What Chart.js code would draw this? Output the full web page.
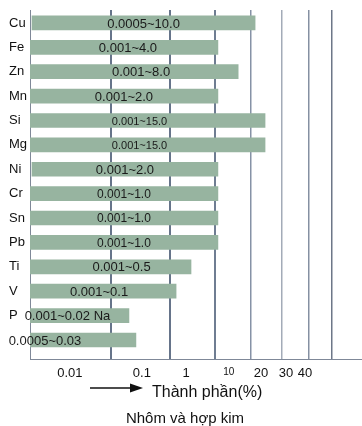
<!DOCTYPE html>
<html>
<head>
<meta charset="utf-8">
<script src="https://cdn.jsdelivr.net/npm/chart.js@4/dist/chart.umd.min.js"></script>
<style>
  body { margin: 0; background: #fff; }
  canvas { display: block; }
</style>
</head>
<body>
<canvas id="alloyChart" width="362" height="426"></canvas>
<script>
// element rows, top to bottom
const elements = ["Cu", "Fe", "Zn", "Mn", "Si", "Mg", "Ni", "Cr", "Sn", "Pb", "Ti", "V", "P", ""];
const rangeLabels = [
    "0.0005~10.0", "0.001~4.0", "0.001~8.0", "0.001~2.0", "0.001~15.0", "0.001~15.0",
    "0.001~2.0", "0.001~1.0", "0.001~1.0", "0.001~1.0", "0.001~0.5", "0.001~0.1",
    "0.001~0.02 Na", "0.0005~0.03"
];
// bar extents in axis units (0..100 across the plot)
const barStarts = [0.6, 0, 0, 0, 0, 0, 0.6, 0, 0, 0, 0, 0, 0, 0];
const barEnds = [67.8, 56.6, 62.7, 56.6, 70.8, 70.8, 56.6, 56.6, 56.6, 56.6, 48.5, 44.0, 29.8, 31.9];
// vertical grid lines and the (offset) tick labels under them
const gridValues = [24.4, 42.2, 55.7, 66.6, 75.9, 84.0, 91.0];
const tickLabels = ["0.01", "0.1", "1", "10", "20", "30", "40"];
const tickValues = [12.0, 33.7, 47.0, 59.9, 69.6, 77.1, 82.8];

const FONT = "'Liberation Sans', Arial, sans-serif";
const gridColors = ["#66748a", "#66748a", "#6f7d92", "#8692a6", "#a3abb8", "#8590a2", "#6d7788"];
const gridWidths = [2, 2, 2, 1.5, 1.5, 1.5, 1.5];

const xTicks = gridValues.map((v, i) => ({ value: v, kind: "grid", idx: i }))
    .concat(tickValues.map((v, i) => ({ value: v, kind: "label", idx: i })))
    .sort((a, b) => a.value - b.value);

const barLabelPlugin = {
    id: "barLabels",
    afterDatasetsDraw(chart, args, opts) {
        const ctx = chart.ctx;
        const meta = chart.getDatasetMeta(0);
        ctx.save();
        ctx.fillStyle = "#1a1a1a";
        ctx.textAlign = "center";
        ctx.textBaseline = "middle";
        meta.data.forEach((bar, i) => {
            ctx.font = (opts.size[i] || 13) + "px " + FONT;
            const cx = (bar.x + bar.base) / 2 + (opts.shift[i] || 0);
            ctx.fillText(rangeLabels[i], cx, bar.y + 1);
        });
        ctx.restore();
    }
};

const captionPlugin = {
    id: "caption",
    afterDraw(chart) {
        const ctx = chart.ctx;
        const bottom = chart.chartArea.bottom;
        ctx.save();
        // arrow
        ctx.strokeStyle = "#111";
        ctx.fillStyle = "#111";
        ctx.lineWidth = 1.5;
        ctx.beginPath();
        ctx.moveTo(90, bottom + 29);
        ctx.lineTo(132, bottom + 29);
        ctx.stroke();
        ctx.beginPath();
        ctx.moveTo(130, bottom + 24.5);
        ctx.lineTo(143, bottom + 29);
        ctx.lineTo(130, bottom + 33.5);
        ctx.closePath();
        ctx.fill();

        ctx.textBaseline = "alphabetic";
        ctx.font = "16px " + FONT;
        ctx.textAlign = "left";
        ctx.fillText("Thành phần(%)", 152, bottom + 38);
        ctx.font = "15px " + FONT;
        ctx.textAlign = "center";
        ctx.fillText("Nhôm và hợp kim", 185, bottom + 64);
        ctx.restore();
    }
};

new Chart(document.getElementById("alloyChart"), {
    type: "bar",
    data: {
        datasets: [{
            data: elements.map((_, i) => ({ y: i, x: [barStarts[i], barEnds[i]] })),
            backgroundColor: "#97b4a0",
            borderWidth: 0,
            barThickness: 14
        }]
    },
    plugins: [barLabelPlugin, captionPlugin],
    options: {
        indexAxis: "y",
        responsive: false,
        animation: false,
        layout: { padding: { left: 9, top: 10, right: 0, bottom: 0 } },
        plugins: {
            legend: { display: false },
            tooltip: { enabled: false },
            barLabels: {
                shift: { 1: 4, 2: 7, 4: -8, 5: -8, 10: 11, 11: -4, 12: -12, 13: -38 },
                size: { 4: 11, 5: 11, 7: 12, 8: 12, 9: 12 }
            }
        },
        scales: {
            x: {
                type: "linear",
                min: 0,
                max: 100,
                afterBuildTicks: (scale) => { scale.ticks = xTicks.map(t => ({ ...t })); },
                afterFit: (scale) => { scale.height = 67; },
                grid: {
                    drawTicks: false,
                    color: (c) => c.tick && c.tick.kind === "grid" ? gridColors[c.tick.idx] : "rgba(0,0,0,0)",
                    lineWidth: (c) => c.tick && c.tick.kind === "grid" ? gridWidths[c.tick.idx] : 0
                },
                border: { display: true, color: "#7f8898", width: 1 },
                ticks: {
                    autoSkip: false,
                    maxRotation: 0,
                    padding: 7,
                    color: "#111",
                    font: (c) => ({ family: FONT, size: c.tick && c.tick.kind === "label" && tickLabels[c.tick.idx] === "10" ? 10 : 13 }),
                    callback: (v, i, ticks) => ticks[i].kind === "label" ? tickLabels[ticks[i].idx] : ""
                }
            },
            y: {
                type: "linear",
                reverse: true,
                offset: false,
                min: -0.53,
                max: 13.78,
                afterBuildTicks: (scale) => { scale.ticks = elements.map((_, i) => ({ value: i })); },
                afterFit: (scale) => { scale.width = 21; },
                grid: { display: false, offset: false },
                border: { display: true, color: "#7f8898", width: 1 },
                ticks: {
                    crossAlign: "far",
                    padding: 0,
                    color: "#111",
                    font: { family: FONT, size: 13 },
                    callback: (v) => elements[v] !== undefined ? elements[v] : ""
                }
            }
        }
    }
});
</script>
</body>
</html>
